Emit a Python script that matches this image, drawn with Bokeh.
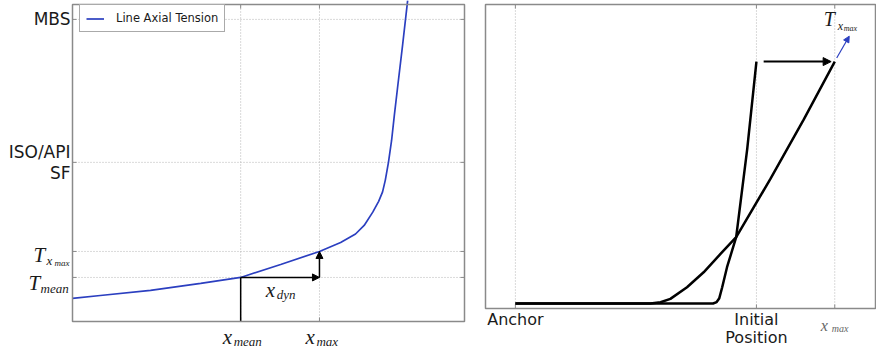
from bokeh.plotting import figure
from bokeh.models import Range1d, Arrow, NormalHead, Legend, LegendItem
from bokeh.core.properties import value
from bokeh.layouts import row
from bokeh.embed import file_html
from bokeh.resources import INLINE

# ---------------- data: left panel (tension vs offset) ----------------
curve_x = [0, 7.1, 19.9, 32.7, 42.9, 53.1, 63.0, 68.4, 72.2, 74.4, 76.6, 78.1, 79.1, 79.8, 80.6, 81.4, 82.1, 82.9, 84.2, 85.5]
curve_y = [7.3, 8.2, 9.8, 12.0, 13.9, 18.0, 22.1, 24.9, 27.6, 30.3, 34.5, 37.9, 40.9, 44.6, 50.2, 57.1, 65.0, 73.5, 87.1, 101.3]
x_mean = 42.9
x_max = 63.0
T_mean = 13.9
T_xmax = 22.1
ISO_SF = 50.2
MBS = 95.3
left_ytick_labels = ["MBS", "ISO/API\nSF"]
legend_label = "Line Axial Tension"

# ---------------- data: right panel (line profiles) ----------------
anchor_x = 0
initial_x = 100
xmax_r = 132.5
top_r = 100
initial_line_x = [0, 82.0, 83.5, 84.6, 85.8, 87.8, 91.6, 96.2, 100]
initial_line_y = [0, 0, 0.6, 2.2, 6.7, 15.0, 27.4, 64.0, 100]
offset_line_x = [0, 56.0, 60.2, 64.3, 71.2, 78.1, 85.1, 91.6, 105.8, 119.6, 132.5]
offset_line_y = [0, 0, 0.5, 1.9, 6.7, 12.9, 20.5, 27.4, 51.5, 76.0, 100]
right_xtick_labels = ["Anchor", "Initial\nPosition"]

GRID = "#b4b4b4"
FRAME = "#8a8a8a"
BLUE = "#2b3fc0"
TXT = "#1a1a1a"
SANS = "DejaVu Sans"
SERIF = "Liberation Serif"


def make_fig(W, H, box_px, box_data):
    l, t, r, b = box_px
    x0, x1, y0, y1 = box_data
    ppx = (r - l) / (x1 - x0)
    ppy = (b - t) / (y1 - y0)
    xr = Range1d(x0 - l / ppx, x1 + (W - r) / ppx)
    yr = Range1d(y0 - (H - b) / ppy, y1 + t / ppy)
    p = figure(width=W, height=H, x_range=xr, y_range=yr, output_backend="svg",
               toolbar_location=None, min_border=0)
    p.axis.visible = False
    p.grid.visible = False
    p.outline_line_color = None
    p.background_fill_color = "white"
    p.border_fill_color = "white"
    return p, ppx, ppy


def grid_and_ticks(p, box, ppx, ppy, xt, yt):
    x0, x1, y0, y1 = box
    if xt:
        p.segment(x0=xt, y0=[y0] * len(xt), x1=xt, y1=[y1] * len(xt),
                  line_color=GRID, line_dash="1 2", line_width=1)
        p.segment(x0=xt, y0=[y0] * len(xt), x1=xt, y1=[y0 + 4 / ppy] * len(xt),
                  line_color=FRAME, line_width=1)
        p.segment(x0=xt, y0=[y1] * len(xt), x1=xt, y1=[y1 - 4 / ppy] * len(xt),
                  line_color=FRAME, line_width=1)
    if yt:
        p.segment(x0=[x0] * len(yt), y0=yt, x1=[x1] * len(yt), y1=yt,
                  line_color=GRID, line_dash="1 2", line_width=1)
        p.segment(x0=[x0] * len(yt), y0=yt, x1=[x0 + 4 / ppx] * len(yt), y1=yt,
                  line_color=FRAME, line_width=1)
        p.segment(x0=[x1] * len(yt), y0=yt, x1=[x1 - 4 / ppx] * len(yt), y1=yt,
                  line_color=FRAME, line_width=1)


def frame(p, box):
    x0, x1, y0, y1 = box
    p.quad(left=[x0], right=[x1], bottom=[y0], top=[y1], fill_color=None,
           line_color=FRAME, line_width=1.5)


def math(p, x, y, parts, color=TXT):
    # parts: (text, size_px, dx, dy_down)
    for t, s, dx, dy in parts:
        p.text(x=[x], y=[y], text=[t], x_offset=dx, y_offset=dy,
               text_font=value(SERIF), text_font_style="italic",
               text_font_size=value(f"{s}px"), text_color=color,
               text_baseline="alphabetic", text_align="left")


def sans(p, xs, ys, texts, align, baseline, dx, dy, size=16, lh=1.12):
    p.text(x=xs, y=ys, text=texts, x_offset=dx, y_offset=dy,
           text_font=value(SANS), text_font_size=value(f"{size}px"),
           text_color=TXT, text_align=align, text_baseline=baseline,
           text_line_height=lh)


# ---------------- left figure ----------------
LBOX = (0, 100, 0, 100)
p1, ppx1, ppy1 = make_fig(478, 348, (72, 4, 464, 321), LBOX)
grid_and_ticks(p1, LBOX, ppx1, ppy1, [x_mean, x_max], [T_mean, T_xmax, ISO_SF, MBS])

r = p1.line(curve_x, curve_y, line_color=BLUE, line_width=1.7)
p1.line([x_mean, x_mean], [LBOX[2], T_mean], line_color="black", line_width=1.5)
p1.add_layout(Arrow(end=NormalHead(size=7, fill_color="black", line_color="black"),
                    x_start=x_mean, y_start=T_mean, x_end=x_max, y_end=T_mean,
                    line_color="black", line_width=1.5))
p1.add_layout(Arrow(end=NormalHead(size=7, fill_color="black", line_color="black"),
                    x_start=x_max, y_start=T_mean, x_end=x_max, y_end=T_xmax,
                    line_color="black", line_width=1.5))
frame(p1, LBOX)

legend = Legend(items=[LegendItem(label=legend_label, renderers=[r])],
                location=(79, 316), margin=0, padding=6, spacing=0,
                label_text_font=SANS, label_text_font_size="11.5px", label_text_color=TXT,
                glyph_width=18, glyph_height=11, label_standoff=12, label_height=11,
                border_line_color="#555555", border_line_width=1,
                background_fill_color="white", background_fill_alpha=1)
p1.add_layout(legend)

# tick labels (left)
sans(p1, [LBOX[0], LBOX[0]], [MBS, ISO_SF], left_ytick_labels, "right", "middle", -2, 0, size=17, lh=1.05)
math(p1, LBOX[0], T_mean, [("T", 21, -44, 6), ("mean", 13, -32, 11)])
math(p1, LBOX[0], T_xmax, [("T", 21, -39, 4), ("x", 13, -26, 9), ("max", 9, -18, 12)])
math(p1, x_mean, LBOX[2], [("x", 21, -18, 15), ("mean", 13, -7, 20)])
math(p1, x_max, LBOX[2], [("x", 21, -14, 15), ("max", 13, -3, 20)])
math(p1, x_mean, T_mean, [("x", 21, 25, 13), ("dyn", 13, 36, 17)])

# ---------------- right figure ----------------
RBOX = (-12.4, 149.4, -2.07, 123.6)
p2, ppx2, ppy2 = make_fig(398, 348, (7, 4, 397, 308), RBOX)
grid_and_ticks(p2, RBOX, ppx2, ppy2, [anchor_x, initial_x, xmax_r], [])

p2.line(initial_line_x, initial_line_y, line_color="black", line_width=2.5)
p2.line(offset_line_x, offset_line_y, line_color="black", line_width=2.5)
p2.add_layout(Arrow(end=NormalHead(size=8, fill_color="black", line_color="black"),
                    x_start=initial_x + 3, y_start=top_r, x_end=xmax_r - 1.5, y_end=top_r,
                    line_color="black", line_width=2))
p2.add_layout(Arrow(end=NormalHead(size=6, fill_color=BLUE, line_color=BLUE),
                    x_start=xmax_r + 0.8, y_start=top_r + 1.5, x_end=xmax_r + 6, y_end=top_r + 10.5,
                    line_color=BLUE, line_width=1.2))
frame(p2, RBOX)

sans(p2, [anchor_x, initial_x], [RBOX[2], RBOX[2]], right_xtick_labels, "center", "top", 0, 1, lh=0.95)
math(p2, xmax_r, RBOX[3], [("T", 20, -11, 14), ("x", 12, 3, 21), ("max", 8, 9, 24)])
math(p2, xmax_r, RBOX[2], [("x", 16, -14, 17), ("max", 10, -3, 20)], color="#666666")

layout = row(p1, p2, spacing=0)
open("out.html", "w").write(file_html(layout, INLINE))
